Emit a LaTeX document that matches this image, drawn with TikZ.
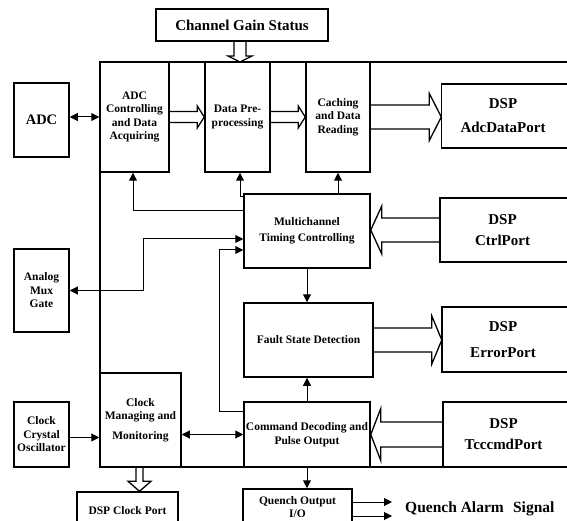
\documentclass[tikz,border=0pt]{standalone}
\usepackage{fontspec}
\setmainfont{Liberation Serif}
\usetikzlibrary{arrows.meta,calc}
\newcommand\hollowh[5]{\draw[hollow] let \p1=(#1),\p2=(#2) in
 (\x1,{\y1+#3}) -- ({\x2-(#5)},{\y1+#3}) -- ({\x2-(#5)},{\y1+#4}) -- (\x2,\y1) -- ({\x2-(#5)},{\y1-#4}) -- ({\x2-(#5)},{\y1-#3}) -- (\x1,{\y1-#3});}
\newcommand\hollowv[5]{\draw[hollow] let \p1=(#1),\p2=(#2) in
 ({\x1+#3},\y1) -- ({\x1+#3},{\y2+(#5)}) -- ({\x1+#4},{\y2+(#5)}) -- (\x1,\y2) -- ({\x1-#4},{\y2+(#5)}) -- ({\x1-#3},{\y2+(#5)}) -- ({\x1-#3},\y1);}
\newcommand\dspout[1]{\draw[line width=1.5pt] ([xshift=30pt]#1.north east) -- (#1.north west) -- (#1.south west) -- ([xshift=30pt]#1.south east);}
\begin{document}
\begin{tikzpicture}[x=1pt,y=-1pt,
  box/.style={draw,line width=1.5pt,align=center,inner sep=1pt,font=\bfseries\fontsize{11.5}{13.5}\selectfont},
  dsp/.style={align=center,inner sep=0pt,font=\bfseries\fontsize{15}{24}\selectfont},
  conn/.style={line width=1pt},
  arr/.style={conn,-{Triangle[length=8pt,width=8pt]}},
  dbl/.style={conn,{Triangle[length=8pt,width=8pt]}-{Triangle[length=8pt,width=8pt]}},
  hollow/.style={line width=1.3pt,line join=miter},
  frame/.style={line width=2.2pt}]
\useasboundingbox (0,0) rectangle (567,521);

% outer frame
\coordinate (ftl) at (100,62);
\coordinate (fbl) at (100,467);
\coordinate (ftr) at (600,62);
\coordinate (fbr) at (600,467);
\draw[frame] (ftr) -- (ftl);
\draw[frame] (fbl) -- (fbr);
\draw[line width=1.6pt] (ftl) -- (fbl);

% nodes
\node[box,minimum width=172,minimum height=32,font=\bfseries\fontsize{15}{18}\selectfont] (cgs) at (242,25) {Channel Gain Status};
\node[box,minimum width=55,minimum height=74,font=\bfseries\fontsize{14.5}{18}\selectfont] (adc) at (41.5,120) {ADC};
\node[box,minimum width=69,minimum height=110] (adcctl) at (134.5,117) {ADC\\Controlling\\and Data\\Acquiring};
\node[box,minimum width=65,minimum height=110] (datapre) at (237.5,117) {Data Pre-\\[1pt]processing};
\node[box,minimum width=64,minimum height=110] (cach) at (338,117) {Caching\\and Data\\Reading};
\node[dsp,minimum width=123,minimum height=64] (dspadc) at (503,116) {DSP\\AdcDataPort};
\node[box,minimum width=126,minimum height=74] (multi) at (307,231) {Multichannel\\[2pt]Timing Controlling};
\node[dsp,minimum width=125,minimum height=64,font=\bfseries\fontsize{15}{21}\selectfont] (dspctrl) at (502.5,230) {DSP\\CtrlPort};
\node[box,minimum width=55,minimum height=83] (amux) at (41.5,290.5) {Analog\\Mux\\Gate};
\node[box,minimum width=129,minimum height=74] (fault) at (308.5,340) {Fault State Detection};
\node[dsp,minimum width=122,minimum height=65,font=\bfseries\fontsize{15}{26}\selectfont] (dsperr) at (503,339.5) {DSP\\ErrorPort};
\node[box,minimum width=81,minimum height=94] (clockmg) at (140.5,420) {Clock\\Managing and\\[6pt]Monitoring};
\node[box,minimum width=126,minimum height=65] (cmd) at (307,434.5) {Command Decoding and\\Pulse Output};
\node[dsp,minimum width=121,minimum height=65,font=\bfseries\fontsize{15}{21}\selectfont] (dsptccc) at (503.5,434.5) {DSP\\TcccmdPort};
\node[box,minimum width=55,minimum height=65] (xtal) at (41.5,434.5) {Clock\\Crystal\\Oscillator};
\node[box,minimum width=101,minimum height=38] (dspclk) at (127.5,511) {DSP Clock Port};
\node[box,minimum width=109,minimum height=36] (quench) at (297.5,507) {Quench Output\\I/O};
\node[anchor=west,inner sep=0pt,font=\bfseries\fontsize{15.5}{18}\selectfont] (qas) at (405,509) {Quench Alarm\hspace{0.35em} Signal};

% DSP outlines (open to the right)
\dspout{dspadc}
\dspout{dspctrl}
\dspout{dsperr}
\dspout{dsptccc}

% hollow bus arrows
\hollowh{adcctl.east}{datapre.west}{5.5pt}{11pt}{7pt}
\hollowh{datapre.east}{cach.west}{5.5pt}{11pt}{7pt}
\hollowh{cach.east}{dspadc.west}{12pt}{23.5pt}{12pt}
\hollowh{dspctrl.west}{multi.east}{12pt}{24pt}{-11pt}
\hollowh{fault.east}{dsperr.west}{12pt}{24pt}{10pt}
\hollowh{dsptccc.west}{cmd.east}{12.5pt}{26pt}{-10pt}
\hollowv{[xshift=-2pt]cgs.south}{cgs.south |- ftl}{6pt}{12pt}{6pt}
\hollowv{[xshift=-1pt]clockmg.south}{dspclk.north}{3.5pt}{11.5pt}{10pt}

% thin connectors
\draw[dbl] (adc.east |- adcctl.west) -- (adcctl.west);
\draw[arr] (cach.south |- multi.north) -- (cach.south);
\draw[arr] ([yshift=-3pt]multi.north west) -| ([xshift=2.5pt]datapre.south);
\draw[arr] ([yshift=-17pt]multi.north west) -| ([xshift=-1.5pt]adcctl.south);
\draw[dbl] (amux.east) -- ++(74,0) |- ([yshift=-8pt]multi.west);
\draw[arr] ([yshift=-10pt]cmd.north west) -- ++(-24,0) |- ([yshift=-19pt]multi.west);
\draw[arr] (multi.south) -- (multi.south |- fault.north);
\draw[arr] (cmd.north) -- (cmd.north |- fault.south);
\draw[arr] ([yshift=-3pt]xtal.east) -- ([yshift=-3pt]xtal.east -| clockmg.west);
\draw[dbl] (clockmg.east |- cmd.west) -- (cmd.west);
\draw[arr] (cmd.south) -- (cmd.south |- quench.north);
\draw[arr] ([yshift=5pt]quench.east) -- ([yshift=5pt]quench.east -| qas.west) [shorten >=13pt];
\draw[arr,shorten >=13pt] ([yshift=-9pt]quench.east) -- ([yshift=-9pt]quench.east -| qas.west);
\end{tikzpicture}
\end{document}
